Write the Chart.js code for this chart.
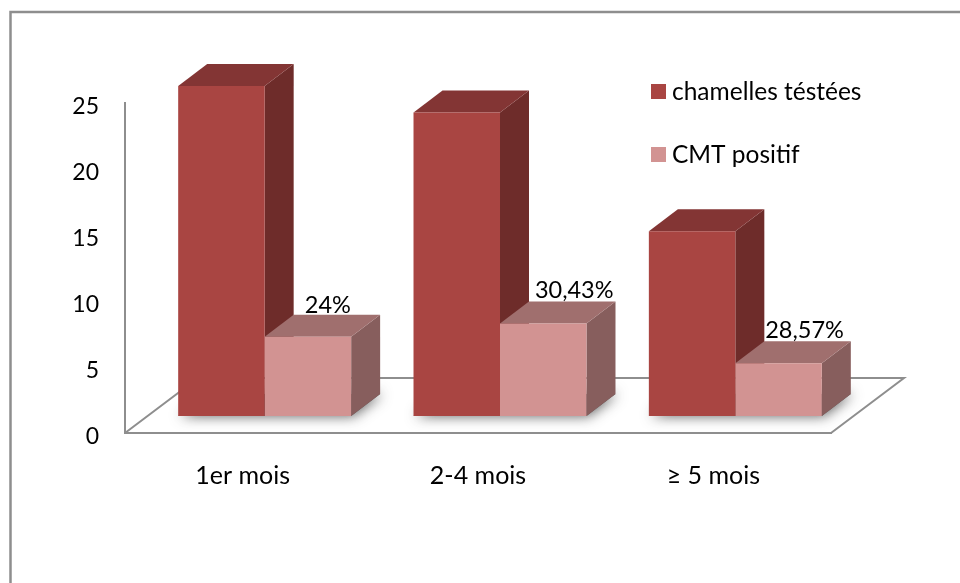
<!DOCTYPE html>
<html lang="fr">
<head>
<meta charset="utf-8">
<title>Chamelles testées et CMT positif</title>
<style>
  html, body { margin: 0; padding: 0; background: #fff; }
  #wrap { width: 960px; height: 583px; }
</style>
<script src="https://cdn.jsdelivr.net/npm/chart.js@4"></script>
</head>
<body>
<div id="wrap"><canvas id="chart" width="960" height="583"></canvas></div>
<script>
// Chart values
const categories = ['1er mois', '2-4 mois', '≥ 5 mois'];
const testees = [25, 23, 14];
const positifs = [6, 7, 4];
const positifLabels = ['24%', '30,43%', '28,57%'];
const yTicks = [0, 5, 10, 15, 20, 25];

// Fake-3D geometry and styling
const FONT = '"Lato", "Carlito", "Open Sans", sans-serif';
const TICK_SIZE = 23;
const VALUE_SIZE = 23.5;
const LABEL_SIZE = 25;
const LEGEND_SIZE = 24.5;
const GREY = '#8e8e8e';
const BAR_SHIFT = { x: 22, y: -17 };   // front plane of the bars, relative to the axes
const BAR_DEPTH = { x: 29, y: -22 };   // depth of each bar
const FLOOR_DEPTH = { x: 73, y: -55 }; // depth of the floor
const LABEL_NUDGE = [{ x: 20, y: -31 }, { x: 31, y: -33 }, { x: 26, y: -33 }];
const faces = [
  { front: '#a94542', side: '#6e2c2a', top: '#833534' },
  { front: '#d29392', side: '#875e5d', top: '#a06f6e' }
];

function poly(ctx, pts, fill) {
  ctx.beginPath();
  pts.forEach((p, i) => (i ? ctx.lineTo(p[0], p[1]) : ctx.moveTo(p[0], p[1])));
  ctx.closePath();
  ctx.fillStyle = fill;
  ctx.fill();
}

const frame3d = {
  id: 'frame3d',
  // Outer chart frame, open on the right and bottom sides
  beforeDraw(chart) {
    const { ctx, width, height } = chart;
    ctx.save();
    ctx.strokeStyle = GREY;
    ctx.lineWidth = 2.5;
    ctx.beginPath();
    ctx.moveTo(10.5, height);
    ctx.lineTo(10.5, 12);
    ctx.lineTo(width, 12);
    ctx.stroke();
    ctx.restore();
  },
  // Floor, shadows, then the side and top faces of every bar.
  // The library paints the front faces afterwards, inside the same translation.
  beforeDatasetsDraw(chart) {
    const { ctx, chartArea: a } = chart;
    ctx.save();
    ctx.strokeStyle = GREY;
    ctx.lineWidth = 2;
    ctx.beginPath();
    ctx.moveTo(a.left, a.bottom);
    ctx.lineTo(a.left + FLOOR_DEPTH.x, a.bottom + FLOOR_DEPTH.y);
    ctx.lineTo(a.right + FLOOR_DEPTH.x, a.bottom + FLOOR_DEPTH.y);
    ctx.lineTo(a.right, a.bottom);
    ctx.stroke();

    const metas = [chart.getDatasetMeta(0), chart.getDatasetMeta(1)];
    const dx = BAR_DEPTH.x, dy = BAR_DEPTH.y;
    ctx.translate(BAR_SHIFT.x, BAR_SHIFT.y);

    metas[0].data.forEach((el, i) => {
      const l = el.x - el.width / 2;
      const other = metas[1].data[i];
      const r = other.x + other.width / 2;
      const b = el.base;
      ctx.save();
      ctx.shadowColor = 'rgba(40,40,40,0.75)';
      ctx.shadowBlur = 13;
      ctx.shadowOffsetX = 2;
      poly(ctx, [[l, b], [r, b], [r + dx, b + dy], [l + dx, b + dy]], '#555');
      ctx.restore();
    });

    metas.forEach((meta, k) => {
      meta.data.forEach(el => {
        const l = el.x - el.width / 2, r = el.x + el.width / 2;
        poly(ctx, [[r, el.y], [r + dx, el.y + dy], [r + dx, el.base + dy], [r, el.base]], faces[k].side);
        poly(ctx, [[l, el.y], [l + dx, el.y + dy], [r + dx, el.y + dy], [r, el.y]], faces[k].top);
      });
    });
  },
  // Closes the translation, then adds the percentage labels and the legend
  afterDatasetsDraw(chart) {
    const { ctx } = chart;
    ctx.restore();
    ctx.save();
    ctx.font = VALUE_SIZE + 'px ' + FONT;
    ctx.fillStyle = '#000';
    ctx.textAlign = 'center';
    ctx.textBaseline = 'middle';
    chart.getDatasetMeta(1).data.forEach((el, i) => {
      ctx.fillText(positifLabels[i], el.x + BAR_SHIFT.x + LABEL_NUDGE[i].x, el.y + BAR_SHIFT.y + LABEL_NUDGE[i].y);
    });
    ctx.textAlign = 'left';
    ctx.font = LEGEND_SIZE + 'px ' + FONT;
    chart.data.datasets.forEach((ds, i) => {
      const y = 91.5 + i * 63;
      ctx.fillStyle = ds.backgroundColor;
      ctx.fillRect(651, y - 7.5, 15, 15);
      ctx.fillStyle = '#000';
      ctx.fillText(ds.label, 672, y + 1);
    });
    ctx.restore();
  }
};

new Chart(document.getElementById('chart'), {
  type: 'bar',
  data: {
    labels: categories,
    datasets: [
      { label: 'chamelles téstées', data: testees, backgroundColor: faces[0].front, clip: false },
      { label: 'CMT positif', data: positifs, backgroundColor: faces[1].front, clip: false }
    ]
  },
  options: {
    responsive: false,
    animation: false,
    layout: { padding: { top: 103, right: 129, bottom: 0, left: 0 } },
    datasets: { bar: { categoryPercentage: 0.735, barPercentage: 1, borderWidth: 0 } },
    plugins: { legend: { display: false }, tooltip: { enabled: false } },
    scales: {
      x: {
        grid: { display: false, drawTicks: false },
        border: { color: GREY, width: 2 },
        ticks: { color: '#000', font: { family: FONT, size: LABEL_SIZE }, padding: 28, maxRotation: 0 },
        afterFit(s) { s.height = 150; }
      },
      y: {
        min: 0,
        max: 25,
        grid: { display: false, drawTicks: false },
        border: { color: GREY, width: 2 },
        afterBuildTicks(s) { s.ticks = yTicks.map(v => ({ value: v })); },
        ticks: { color: '#000', font: { family: FONT, size: TICK_SIZE }, padding: 26, labelOffset: 3.5 },
        afterFit(s) { s.width = 125; }
      }
    }
  },
  plugins: [frame3d]
});
</script>
</body>
</html>
